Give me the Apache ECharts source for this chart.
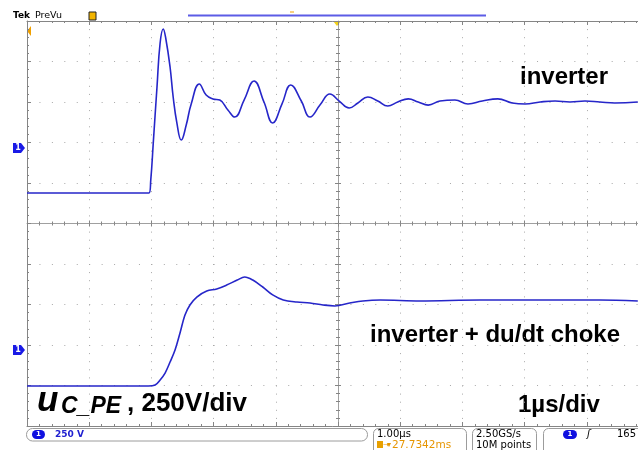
<!DOCTYPE html>
<html>
<head>
<meta charset="utf-8">
<script src="https://cdn.jsdelivr.net/npm/echarts@6/dist/echarts.min.js"></script>
<style>
  html, body { margin: 0; padding: 0; background: #fff; }
  #chart { width: 638px; height: 450px; }
</style>
</head>
<body>
<div id="chart"></div>
<script>
// scope screen: 1 µs/div horizontally, 250 V/div vertically, 10 x 10 divisions
const timeRange = [-5, 5];
const voltRange = [-1250, 1250];
const timeDiv = 1;
const voltDiv = 250;

// trace 1: inverter (µs, V)
const invTime = [-5.00, -3.04, -3.01, -2.97, -2.91, -2.86, -2.81, -2.77, -2.70, -2.65,
  -2.59, -2.52, -2.44, -2.36, -2.23, -2.12, -2.01, -1.90, -1.77, -1.66,
  -1.51, -1.35, -1.19, -1.05, -0.90, -0.76, -0.59, -0.45, -0.29, -0.13,
  0.02, 0.18, 0.32, 0.48, 0.64, 0.80, 0.96, 1.13, 1.29, 1.45,
  1.64, 1.88, 2.09, 2.32, 2.57, 2.80, 3.01, 3.25, 3.49, 3.73,
  3.97, 4.21, 4.45, 4.82];
const invVolt = [188, 188, 269, 497, 843, 1114, 1201, 1145, 966, 781,
  620, 515, 608, 738, 861, 793, 769, 762, 701, 657,
  762, 880, 750, 620, 738, 855, 756, 657, 731, 799,
  756, 713, 744, 781, 756, 725, 750, 769, 750, 731,
  756, 762, 738, 756, 769, 744, 738, 750, 756, 750,
  756, 750, 744, 750];

// trace 2: inverter + du/dt choke (µs, V)
const chokeTime = [-5.00, -3.05, -2.94, -2.86, -2.78, -2.70, -2.62, -2.54, -2.46, -2.38,
  -2.27, -2.11, -1.95, -1.79, -1.62, -1.50, -1.37, -1.21, -1.05, -0.88,
  -0.66, -0.45, -0.24, -0.05, 0.19, 0.40, 0.68, 1.32, 2.28, 3.25,
  4.21, 4.82];
const chokeVolt = [-1003, -1003, -997, -966, -923, -855, -781, -676, -565, -503,
  -454, -417, -404, -380, -349, -330, -349, -392, -441, -472,
  -485, -491, -503, -509, -491, -478, -472, -478, -472, -472,
  -472, -478];

const traceColor = '#2626c9';
const frameColor = '#858585';
const dotColor = '#a8a8a8';
const labelFont = 'Arial, "Liberation Sans", sans-serif';
const scopeFont = '"DejaVu Sans", Verdana, sans-serif';

const chart = echarts.init(document.getElementById('chart'));

// one axis of the graticule (frame edge or centre line)
const gratAxis = (extra) => Object.assign({
  type: 'value',
  min: extra.dim === 'x' ? timeRange[0] : voltRange[0],
  max: extra.dim === 'x' ? timeRange[1] : voltRange[1],
  interval: extra.dim === 'x' ? timeDiv : voltDiv,
  axisLabel: { show: false },
  axisLine: { show: true, onZero: false, lineStyle: { color: frameColor, width: 1 } },
  axisTick: { show: true, inside: true, length: 4, lineStyle: { color: frameColor } },
  minorTick: { show: true, splitNumber: 5, length: 2, lineStyle: { color: frameColor } },
  splitLine: { show: false }
}, extra.opt);

const txt = (text, x, y, font, fill, align) => ({
  type: 'text', x: x, y: y, silent: true,
  style: { text: text, font: font, fill: fill || '#000', align: align || 'left', verticalAlign: 'middle' }
});
const box = (x, y, w, h, r) => ({
  type: 'rect', silent: true, shape: { x: x, y: y, width: w, height: h, r: r },
  style: { fill: 'none', stroke: '#9c9c9c', lineWidth: 1 }
});

const option = {
  animation: false,
  backgroundColor: '#fff',
  grid: { left: 27, top: 21, right: -11, bottom: 24, containLabel: false, outerBoundsMode: 'none' },
  xAxis: [
    gratAxis({ dim: 'x', opt: { position: 'bottom',
      splitLine: { show: true, lineStyle: { color: dotColor, width: 1, type: [1, 7.1] } } } }),
    gratAxis({ dim: 'x', opt: { position: 'top' } }),
    gratAxis({ dim: 'x', opt: { position: 'bottom',
      axisLine: { show: true, onZero: true, onZeroAxisIndex: 0, lineStyle: { color: '#a0a0a0' } },
      axisTick: { show: true, inside: true, length: 3, lineStyle: { color: frameColor } } } }),
    gratAxis({ dim: 'x', opt: { position: 'bottom',
      axisLine: { show: false, onZero: true, onZeroAxisIndex: 0 },
      axisTick: { show: true, inside: false, length: 3, lineStyle: { color: frameColor } } } })
  ],
  yAxis: [
    gratAxis({ dim: 'y', opt: { position: 'left',
      splitLine: { show: true, lineStyle: { color: dotColor, width: 1, type: [1, 11.44] } } } }),
    gratAxis({ dim: 'y', opt: { position: 'left',
      axisLine: { show: true, onZero: true, onZeroAxisIndex: 0, lineStyle: { color: '#a0a0a0' } },
      axisTick: { show: true, inside: true, length: 3, lineStyle: { color: frameColor } } } }),
    gratAxis({ dim: 'y', opt: { position: 'left',
      axisLine: { show: false, onZero: true, onZeroAxisIndex: 0 },
      axisTick: { show: true, inside: false, length: 3, lineStyle: { color: frameColor } } } })
  ],
  series: [
    {
      name: 'inverter',
      type: 'line',
      xAxisIndex: 0,
      yAxisIndex: 0,
      showSymbol: false,
      smooth: 0.45,
      lineStyle: { color: traceColor, width: 1.6 },
      data: invTime.map((t, i) => [t, invVolt[i]])
    },
    {
      name: 'inverter + du/dt choke',
      type: 'line',
      xAxisIndex: 0,
      yAxisIndex: 0,
      showSymbol: false,
      smooth: 0.35,
      lineStyle: { color: traceColor, width: 1.6 },
      data: chokeTime.map((t, i) => [t, chokeVolt[i]])
    }
  ],
  graphic: [
    // header
    txt('Tek', 13, 16, 'bold 9px ' + scopeFont),
    txt('PreVu', 35, 16, '9.5px ' + scopeFont),
    { type: 'rect', silent: true, shape: { x: 89, y: 12, width: 7, height: 8 }, style: { fill: '#f2b400', stroke: '#222', lineWidth: 1 } },
    { type: 'line', silent: true, shape: { x1: 188, y1: 15.5, x2: 486, y2: 15.5 }, style: { stroke: '#5c5ce6', lineWidth: 2 } },
    { type: 'line', silent: true, shape: { x1: 290, y1: 12, x2: 294, y2: 12 }, style: { stroke: '#f0a000', lineWidth: 1 } },
    { type: 'polygon', silent: true, shape: { points: [[333, 21], [341, 21], [337, 26]] }, style: { fill: '#f2d21c' } },
    { type: 'polygon', silent: true, shape: { points: [[27, 31], [31, 26], [31, 36]] }, style: { fill: '#f0a000' } },
    // channel ground markers
    { type: 'polygon', silent: true, shape: { points: [[13, 143], [21, 143], [25, 148], [21, 153], [13, 153]] }, style: { fill: '#1a1ae6' } },
    txt('1', 18, 148, 'bold 8px ' + scopeFont, '#fff', 'center'),
    { type: 'polygon', silent: true, shape: { points: [[13, 345], [21, 345], [25, 350], [21, 355], [13, 355]] }, style: { fill: '#1a1ae6' } },
    txt('1', 18, 350, 'bold 8px ' + scopeFont, '#fff', 'center'),
    // trace labels
    txt('inverter', 520, 77, 'bold 24px ' + labelFont),
    txt('inverter + du/dt choke', 370, 335, 'bold 24px ' + labelFont),
    txt('1µs/div', 518, 405, 'bold 24px ' + labelFont),
    txt('u', 37, 401, 'italic bold 35px ' + labelFont),
    txt('C_PE', 61, 407, 'italic bold 23px ' + labelFont),
    txt(', 250V/div', 127, 404, 'bold 26px ' + labelFont),
    // status bar
    box(26.5, 428.5, 341, 12.5, 6),
    { type: 'rect', silent: true, shape: { x: 32, y: 430, width: 13, height: 9, r: 4.5 }, style: { fill: '#1010e0' } },
    txt('1', 38.5, 434.5, 'bold 7px ' + scopeFont, '#fff', 'center'),
    txt('250 V', 55, 434.5, 'bold 9px ' + scopeFont, '#2020d0'),
    box(373.5, 428.5, 93, 30, 5),
    txt('1.00µs', 377, 434, '10px ' + scopeFont),
    { type: 'rect', silent: true, shape: { x: 377, y: 441, width: 6, height: 7 }, style: { fill: '#e8a000' } },
    txt('→', 383, 445, '7px ' + scopeFont, '#e69500'),
    txt('▾', 387, 445, '8px ' + scopeFont, '#e69500'),
    txt('27.7342ms', 392, 445, '10.5px ' + scopeFont, '#e69500'),
    box(472.5, 428.5, 64, 30, 5),
    txt('2.50GS/s', 476, 434, '10px ' + scopeFont),
    txt('10M points', 476, 445, '10px ' + scopeFont),
    box(543.5, 428.5, 110, 30, 5),
    { type: 'rect', silent: true, shape: { x: 563, y: 430, width: 14, height: 9, r: 4.5 }, style: { fill: '#1010e0' } },
    txt('1', 570, 434.5, 'bold 7px ' + scopeFont, '#fff', 'center'),
    txt('ʃ', 587, 434, 'italic 10px ' + scopeFont),
    txt('165', 617, 434, '10px ' + scopeFont)
  ]
};

chart.setOption(option);
</script>
</body>
</html>
